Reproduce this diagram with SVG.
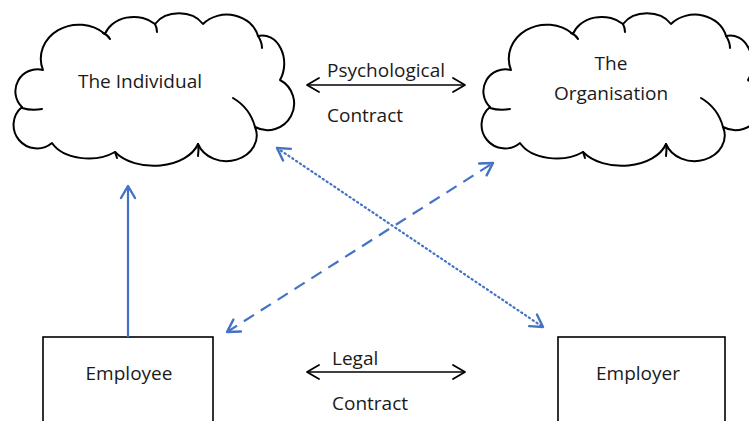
<svg xmlns="http://www.w3.org/2000/svg" width="749" height="421" viewBox="0 0 749 421">
<style>
.cloud{fill:#fff;stroke:#000;stroke-width:2;stroke-linejoin:round}
.hook{fill:none;stroke:#000;stroke-width:2;stroke-linecap:round}
.box{fill:#fff;stroke:#000;stroke-width:1.6}
.t{font-family:"Open Sans","Liberation Sans",sans-serif;font-size:19px;fill:#1a1a1a}
.blk{stroke:#000;stroke-width:1.6;fill:none}
.blue{stroke:#4472C4;stroke-width:2.2;fill:none}
</style>
<defs>
<marker id="ab" markerUnits="userSpaceOnUse" viewBox="-16 -10 20 20" refX="0" refY="0" markerWidth="20" markerHeight="20" orient="auto-start-reverse" overflow="visible">
<path d="M -12 -7 L 0 0 L -12 7" fill="none" stroke="#000" stroke-width="1.8" stroke-linecap="round" stroke-linejoin="round"/>
</marker>
<marker id="au" markerUnits="userSpaceOnUse" viewBox="-16 -10 20 20" refX="0" refY="0" markerWidth="20" markerHeight="20" orient="auto-start-reverse" overflow="visible">
<path d="M -12 -7 L 0 0 L -12 7" fill="none" stroke="#4472C4" stroke-width="2.4" stroke-linecap="round" stroke-linejoin="round"/>
</marker>
<g id="cloudShape">
<path class="cloud" d="M 43 70 A 38 34 0 0 1 105 34 A 30 24 0 0 1 155 24 A 28 22 0 0 1 203 24 A 32 28 0 0 1 258 36 A 22 28 0 0 1 280 80 A 26 26 0 0 1 255 127 A 26 22 0 0 1 198 144 A 46 30 0 0 1 115 152 A 40 26 0 0 1 52 143 A 20 20 0 0 1 22 107 A 22 22 0 0 1 43 70 Z"/>
<path class="hook" d="M 22 108 Q 32 111 42 109"/>
<path class="hook" d="M 103 33 Q 108 35 110 39"/>
<path class="hook" d="M 155 24 Q 157 28 157 32"/>
<path class="hook" d="M 233 98 Q 250 108 255 127"/>
<path class="hook" d="M 198 144 Q 199 150 198 156"/>
<path class="hook" d="M 115 152 Q 116 155 117 158"/>
<path class="hook" d="M 258 36 Q 262 42 262 48"/>
</g>
</defs>

<g id="individual">
<use href="#cloudShape"/>
<text class="t" x="140" y="88" text-anchor="middle">The Individual</text>
</g>

<g id="organisation">
<use href="#cloudShape" transform="translate(468,0)"/>
<text class="t" x="611" y="70" text-anchor="middle">The</text>
<text class="t" x="611" y="100" text-anchor="middle">Organisation</text>
</g>

<g id="employee">
<rect class="box" x="43" y="337" width="170" height="100"/>
<text class="t" x="129" y="380" text-anchor="middle">Employee</text>
</g>

<g id="employer">
<rect class="box" x="558" y="337" width="167" height="100"/>
<text class="t" x="638" y="380" text-anchor="middle">Employer</text>
</g>

<g id="connectors">
<line class="blk" x1="307" y1="85" x2="465" y2="85" marker-start="url(#ab)" marker-end="url(#ab)"/>
<text class="t" x="327" y="77">Psychological</text>
<text class="t" x="327" y="122">Contract</text>
<line class="blk" x1="307" y1="372" x2="465" y2="372" marker-start="url(#ab)" marker-end="url(#ab)"/>
<text class="t" x="332" y="365">Legal</text>
<text class="t" x="332" y="410">Contract</text>
<line class="blue" x1="128" y1="337" x2="128" y2="186" marker-end="url(#au)"/>
<line class="blue" x1="277" y1="148" x2="543" y2="327" stroke-width="2.6" stroke-dasharray="1.2 3.4" stroke-linecap="round" marker-start="url(#au)" marker-end="url(#au)"/>
<line class="blue" x1="227" y1="332" x2="493" y2="163" stroke-width="2.6" stroke-dasharray="12 8" marker-start="url(#au)" marker-end="url(#au)"/>
</g>
</svg>
